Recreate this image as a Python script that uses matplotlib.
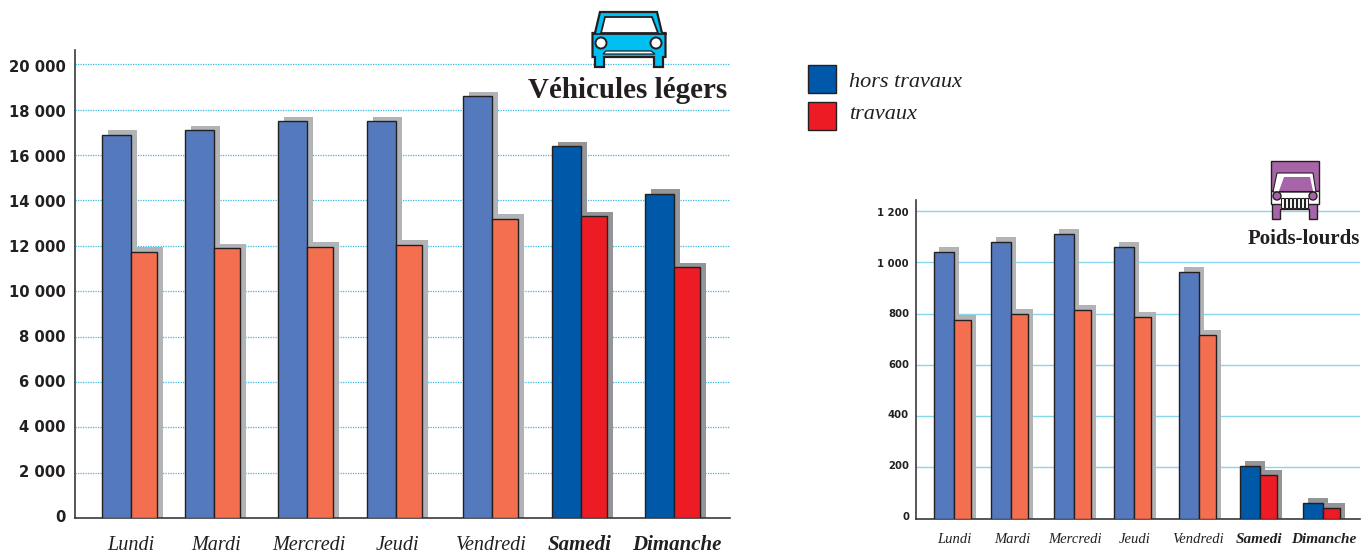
import matplotlib
matplotlib.use("Agg")
import matplotlib.pyplot as plt
from matplotlib.patches import Polygon, Rectangle, Circle
from matplotlib.transforms import Affine2D

W, H = 1372, 555
days = ["Lundi", "Mardi", "Mercredi", "Jeudi", "Vendredi", "Samedi", "Dimanche"]
vl_hors = [16900, 17100, 17500, 17500, 18600, 16400, 14300]
vl_trav = [11750, 11900, 11950, 12050, 13200, 13300, 11050]
pl_hors = [1040, 1080, 1110, 1060, 960, 205, 62]
pl_trav = [775, 800, 812, 785, 715, 170, 40]
vl_ticks = [0, 2000, 4000, 6000, 8000, 10000, 12000, 14000, 16000, 18000, 20000]
pl_ticks = [0, 200, 400, 600, 800, 1000, 1200]

# layout, in pixels of the figure
vl_x = [102, 185, 278, 367, 463, 552, 645]
pl_x = [934, 991, 1054, 1114, 1179, 1240, 1303]

SERIF = "Liberation Serif"
SANS = "DejaVu Sans"
DARK = "#231f20"
C = dict(b="#5479bd", r="#f36f50", B="#0058a8", R="#ed1c24", s="#b1b3b6", S="#939598")

fig = plt.figure(figsize=(W / 100, H / 100), dpi=100)

def make_axes(x0, x1, top, bottom, ymax):
    ax = fig.add_axes([x0 / W, 1 - bottom / H, (x1 - x0) / W, (bottom - top) / H])
    ax.set_xlim(x0, x1)
    ax.set_ylim(0, ymax)
    ax.patch.set_alpha(0)
    for s in ("top", "right"):
        ax.spines[s].set_visible(False)
    for s in ("left", "bottom"):
        ax.spines[s].set_color("#3a3a3c")
        ax.spines[s].set_linewidth(1.2)
    ax.set_xticks([])
    return ax

def draw(ax, xs, hors, trav, wb, wr, dx, dy, lw, pxscale):
    extra = dy / pxscale
    tr = ax.transData + Affine2D().translate(dx, 0)
    for i, (x, h, t) in enumerate(zip(xs, hors, trav)):
        sc = C["S"] if i >= 5 else C["s"]
        ax.bar(x, h + extra, wb, align="edge", color=sc, lw=0, zorder=2, transform=tr)
        ax.bar(x + wb, t + extra, wr, align="edge", color=sc, lw=0, zorder=2, transform=tr)
    for i, (x, h, t) in enumerate(zip(xs, hors, trav)):
        we = i >= 5
        ax.bar(x, h, wb, align="edge", color=C["B"] if we else C["b"], edgecolor=DARK, lw=lw, zorder=3)
        ax.bar(x + wb, t, wr, align="edge", color=C["R"] if we else C["r"], edgecolor=DARK, lw=lw, zorder=3)

def nudge(ax, ticks, base, slope):
    top = ticks[-1]
    for v, lbl in zip(ticks, ax.get_yticklabels()):
        lbl.set_transform(lbl.get_transform() + Affine2D().translate(0, base - slope * v / top))

# Véhicules légers
ax1 = make_axes(75, 730, 50, 518, (518 - 50) / 0.02268)
ax1.yaxis.grid(True, color="#39b9e6", lw=0.9, ls=(0, (1, 1)), zorder=1)
ax1.set_axisbelow(True)
ax1.set_yticks(vl_ticks)
ax1.set_yticklabels([f"{v:,}".replace(",", " ") for v in vl_ticks],
                    fontsize=10.6, fontfamily=SANS, fontweight="bold", color=DARK)
ax1.tick_params(axis="y", length=0, pad=6.5)
nudge(ax1, vl_ticks, 2, 3.6)
draw(ax1, vl_x, vl_hors, vl_trav, 29, 26, 6, 4.5, 1.0, 0.02268)

# Poids-lourds
ax2 = make_axes(916, 1360, 200, 518.7, (518.7 - 200) / 0.2565)
ax2.yaxis.grid(True, color="#8ad6ef", lw=1.0, zorder=1)
ax2.set_axisbelow(True)
ax2.set_yticks(pl_ticks)
ax2.set_yticklabels([f"{v:,}".replace(",", " ") for v in pl_ticks],
                    fontsize=7.3, fontfamily=SANS, fontweight="bold", color=DARK)
ax2.tick_params(axis="y", length=0, pad=5)
nudge(ax2, pl_ticks, 3, 4)
draw(ax2, pl_x, pl_hors, pl_trav, 20, 17, 5, 5, 1.0, 0.2565)

# overlay in pixel coordinates
ov = fig.add_axes([0, 0, 1, 1], zorder=10)
ov.set_xlim(0, W)
ov.set_ylim(H, 0)
ov.axis("off")
ov.patch.set_alpha(0)

# day labels
vl_lab = [131, 216, 309, 398, 491, 580, 677]
pl_lab = [954, 1012, 1075, 1135, 1198, 1259, 1324]
for i, d in enumerate(days):
    we = i >= 5
    ov.text(vl_lab[i], 549.5, d, ha="center", va="baseline", fontsize=15 if we else 14.5, style="italic",
            family=SERIF, weight="bold" if we else "normal", color=DARK)
    ov.text(pl_lab[i], 543, d, ha="center", va="baseline", fontsize=11 if we else 10.5, style="italic",
            family=SERIF, weight="bold" if we else "normal", color=DARK)

# titles
ov.text(727, 98, "Véhicules légers", ha="right", va="baseline", fontsize=20.9, weight="bold",
        family=SERIF, color=DARK)
ov.text(1360, 244, "Poids-lourds", ha="right", va="baseline", fontsize=15, weight="bold",
        family=SERIF, color=DARK)

# legend
for y, base, col, lab in [(65, 87, C["B"], "hors travaux"), (102, 119, C["R"], "travaux")]:
    ov.add_patch(Rectangle((808, y), 28, 28, fc=col, ec=DARK, lw=1))
    ov.text(849, base, lab, ha="left", va="baseline", fontsize=16, style="italic",
            family=SERIF, color=DARK)

# car icon
CAR = "#00bff3"
ink = dict(ec=DARK, lw=1.6, joinstyle="miter")
ov.add_patch(Polygon([(600, 12), (657, 12), (662, 33), (665.5, 33), (665.5, 57), (663, 57), (663, 67),
                      (654, 67), (654, 57), (604, 57), (604, 67), (595, 67), (595, 57), (592.5, 57),
                      (592.5, 33), (595, 33)], fc=CAR, **ink))
ov.add_patch(Polygon([(601, 33), (605, 17), (652, 17), (658, 33)], fc="white", ec=DARK, lw=1.3))
ov.plot([592.5, 665.5], [33.5, 33.5], color=DARK, lw=1.3)
ov.add_patch(Polygon([(603, 54), (606, 51), (651, 51), (655, 54)], fc="white", ec=DARK, lw=0.9))
for cx in (601, 656):
    ov.add_patch(Circle((cx, 43), 5.5, fc="white", ec=DARK, lw=1.4))

# truck icon
TRK = "#a864a8"
ov.add_patch(Rectangle((1271, 161), 48, 30, fc=TRK, ec=DARK, lw=1.0))
ov.add_patch(Polygon([(1272, 203), (1272, 219), (1280, 219), (1280, 209), (1309, 209), (1309, 219),
                      (1317, 219), (1317, 203)], fc=TRK, ec=DARK, lw=1.0))
ov.add_patch(Rectangle((1271, 191), 48, 12.5, fc="white", ec=DARK, lw=1.0))
ov.add_patch(Polygon([(1273, 192), (1277, 173), (1313, 173), (1316, 192)], fc="white", ec=DARK, lw=0.8))
ov.add_patch(Polygon([(1279, 191), (1284, 177), (1310, 177), (1313, 191)], fc=TRK, ec="none"))
ov.plot([1279, 1313], [191, 191], color=DARK, lw=0.8)
for cx in (1277, 1313):
    ov.add_patch(Circle((cx, 196), 4, fc=TRK, ec=DARK, lw=1))
for gx in (1281, 1285, 1289, 1293, 1297, 1301, 1305):
    ov.add_patch(Rectangle((gx, 198), 2.6, 10, fc="white", ec=DARK, lw=0.8))

fig.savefig("out.png", dpi=100, facecolor="white")
